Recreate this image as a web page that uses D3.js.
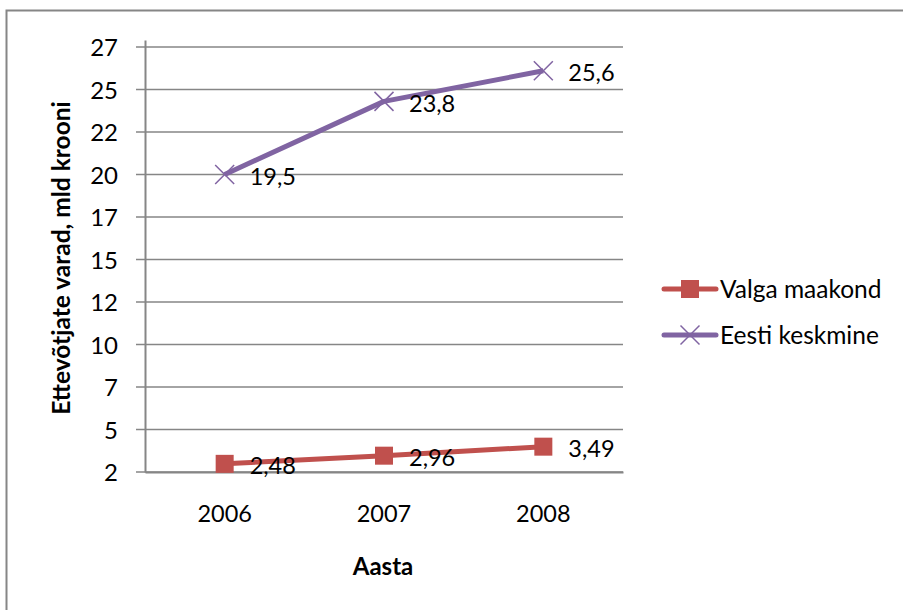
<!DOCTYPE html>
<html><head><meta charset="utf-8">
<script src="https://cdn.jsdelivr.net/npm/d3@7"></script>
<style>body{margin:0;background:#fff}svg{display:block}text{font-family:Lato,"Noto Sans",sans-serif;fill:#000}</style>
</head><body>
<script>
const years = ["2006", "2007", "2008"];
const valga = [2.48, 2.96, 3.49];
const eesti = [19.5, 23.8, 25.6];
const valgaLabels = ["2,48", "2,96", "3,49"];
const eestiLabels = ["19,5", "23,8", "25,6"];
const yTicks = [2, 4.5, 7, 9.5, 12, 14.5, 17, 19.5, 22, 24.5, 27];
const yTickLabels = ["2", "5", "7", "10", "12", "15", "17", "20", "22", "25", "27"];
const seriesNames = ["Valga maakond", "Eesti keskmine"];
const colors = ["#C0504D", "#8064A2"];

const W = 903, H = 610;
const FS = 23.5;
const svg = d3.select("body").append("svg").attr("width", W).attr("height", H);
svg.append("rect").attr("x", 6.5).attr("y", 10.5).attr("width", 1000).attr("height", 1000)
  .attr("fill", "#fff").attr("stroke", "#868686").attr("stroke-width", 2);

const L = 145, R = 623, T = 40, B = 472;
const x = d3.scaleBand().domain(years).range([L, R]);
const y = d3.scaleLinear().domain([2, 27.41]).range([B, T]);

// gridlines
svg.append("g").selectAll("line").data(yTicks).join("line")
  .attr("x1", L - 9).attr("x2", R).attr("y1", d => y(d)).attr("y2", d => y(d))
  .attr("stroke", "#868686").attr("stroke-width", 1.5);

// y axis
const yAxis = d3.axisLeft(y).tickValues(yTicks).tickSize(0).tickPadding(27)
  .tickFormat((d, i) => yTickLabels[i]);
const gy = svg.append("g").attr("transform", `translate(${L},0)`).call(yAxis);
gy.select(".domain").attr("stroke", "#868686").attr("stroke-width", 2);
gy.selectAll("text").attr("font-size", 24).attr("font-family", "Lato").attr("dy", "0.36em");

// x axis
const xAxis = d3.axisBottom(x).tickSize(0).tickPadding(33);
const gx = svg.append("g").attr("transform", `translate(0,${B})`).call(xAxis);
gx.select(".domain").attr("stroke", "#868686").attr("stroke-width", 2);
gx.selectAll("text").attr("font-size", FS).attr("font-family", "Lato");

// axis titles
svg.append("text").attr("transform", "translate(70,258) rotate(-90)")
  .attr("text-anchor", "middle").attr("font-size", 24.5).attr("font-weight", "bold")
  .text("Ettevõtjate varad, mld krooni");
svg.append("text").attr("x", 383).attr("y", 575).attr("text-anchor", "middle")
  .attr("font-size", 24).attr("font-weight", "bold").text("Aasta");

const cx = d => x(d) + x.bandwidth() / 2;
const line = d3.line().x((d, i) => cx(years[i])).y(d => y(d));

function drawSeries(vals, labels, color, marker) {
  svg.append("path").datum(vals).attr("d", line).attr("fill", "none")
    .attr("stroke", color).attr("stroke-width", 5).attr("stroke-linejoin", "round");
  const g = svg.append("g");
  vals.forEach((v, i) => {
    const px = cx(years[i]), py = y(v);
    if (marker === "square") {
      g.append("rect").attr("x", px - 9).attr("y", py - 9).attr("width", 18).attr("height", 18).attr("fill", color);
    } else {
      g.append("path").attr("d", `M${px-9.5},${py-9.5}L${px+9.5},${py+9.5}M${px-9.5},${py+9.5}L${px+9.5},${py-9.5}`)
        .attr("stroke", color).attr("stroke-width", 1.5);
    }
    g.append("text").attr("x", px + 25).attr("y", py + 2).attr("dy", "0.35em")
      .attr("font-size", FS).text(labels[i]);
  });
}
drawSeries(valga, valgaLabels, colors[0], "square");
drawSeries(eesti, eestiLabels, colors[1], "x");

// legend
const legY = [289, 335];
seriesNames.forEach((n, i) => {
  const g = svg.append("g");
  g.append("line").attr("x1", 664).attr("x2", 716).attr("y1", legY[i]).attr("y2", legY[i])
    .attr("stroke", colors[i]).attr("stroke-width", 5).attr("stroke-linecap", "round");
  if (i === 0) {
    g.append("rect").attr("x", 690 - 9).attr("y", legY[i] - 9).attr("width", 18).attr("height", 18).attr("fill", colors[i]);
  } else {
    g.append("path").attr("d", `M680.5,${legY[i]-9.5}L699.5,${legY[i]+9.5}M680.5,${legY[i]+9.5}L699.5,${legY[i]-9.5}`)
      .attr("stroke", colors[i]).attr("stroke-width", 1.5);
  }
  g.append("text").attr("x", 720).attr("y", legY[i]).attr("dy", "0.36em").attr("font-size", 24.5).text(n);
});
</script>
</body></html>
